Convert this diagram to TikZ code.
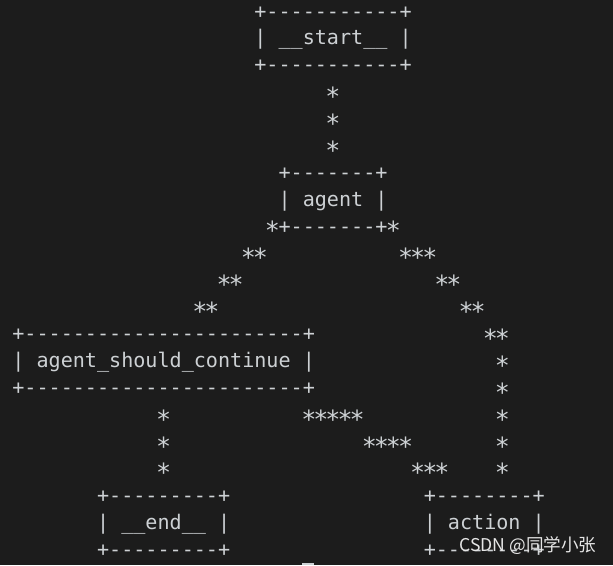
\documentclass[tikz,border=0pt]{standalone}
\usepackage{fontspec}
\setmonofont{DejaVu Sans Mono}
\newfontfamily\cjk{Noto Sans CJK SC}
\definecolor{bgc}{HTML}{1C1C1C}
\definecolor{fgc}{HTML}{CDD1D4}
\definecolor{wmc}{HTML}{E6E6E6}
\tikzset{
  seg/.style={anchor=base west, inner sep=0pt, outer sep=0pt, text=fgc,
    font=\ttfamily\fontsize{20.1}{27}\selectfont},
  stardot/.style={anchor=base, inner sep=0pt, outer sep=0pt, text=fgc,
    font=\ttfamily\fontsize{25}{27}\selectfont},
  watermark/.style={anchor=center, inner sep=0pt, text=wmc,
    font=\cjk\fontsize{17.6}{20}\selectfont}
}
\newcommand\seg[4]{\node[seg] (#1) at ({12.1*#2+12.35},{-(11+26.9*#3)-7}) {#4};}
% a run of #4 stars starting at column #2, row #3
\newcommand\sts[4]{\foreach \k in {1,...,#4}{%
  \node[stardot] (#1-\k) at ({18.4+12.1*(#2+\k-1)},{-(11+26.9*#3)-13.6}) {*};}}
\begin{document}
\begin{tikzpicture}[x=1pt,y=1pt]
\fill[bgc] (0,0) rectangle (613,-565);
\useasboundingbox (0,0) rectangle (613,-565);
% __start__
\seg{startT}{20}{0}{+-----------+}
\seg{startM}{20}{1}{| \_\_start\_\_ |}
\seg{startB}{20}{2}{+-----------+}
\sts{sa1}{26}{3}{1}
\sts{sa2}{26}{4}{1}
\sts{sa3}{26}{5}{1}
% agent
\seg{agentT}{22}{6}{+-------+}
\seg{agentM}{22}{7}{| agent |}
\sts{al0}{21}{8}{1}
\seg{agentB}{22}{8}{+-------+}
\sts{ar0}{31}{8}{1}
\sts{al1}{19}{9}{2}
\sts{ar1}{32}{9}{3}
\sts{al2}{17}{10}{2}
\sts{ar2}{35}{10}{2}
\sts{al3}{15}{11}{2}
\sts{ar3}{37}{11}{2}
% agent_should_continue
\seg{ascT}{0}{12}{+-----------------------+}
\sts{ar4}{39}{12}{2}
\seg{ascM}{0}{13}{| agent\_should\_continue |}
\sts{ar5}{40}{13}{1}
\seg{ascB}{0}{14}{+-----------------------+}
\sts{ar6}{40}{14}{1}
\sts{ae1}{12}{15}{1}
\sts{aa1}{24}{15}{5}
\sts{ar7}{40}{15}{1}
\sts{ae2}{12}{16}{1}
\sts{aa2}{29}{16}{4}
\sts{ar8}{40}{16}{1}
\sts{ae3}{12}{17}{1}
\sts{aa3}{33}{17}{3}
\sts{ar9}{40}{17}{1}
% __end__ and action
\seg{endT}{7}{18}{+---------+}
\seg{actT}{34}{18}{+--------+}
\seg{endM}{7}{19}{| \_\_end\_\_ |}
\seg{actM}{34}{19}{| action |}
\seg{endB}{7}{20}{+---------+}
\seg{actB}{34}{20}{+--------+}
% cursor mark
\fill[fgc] (302,-562.5) rectangle (314,-565);
% watermark
\node[watermark] (wm) at (528,-546) {CSDN @同学小张};
\end{tikzpicture}
\end{document}
